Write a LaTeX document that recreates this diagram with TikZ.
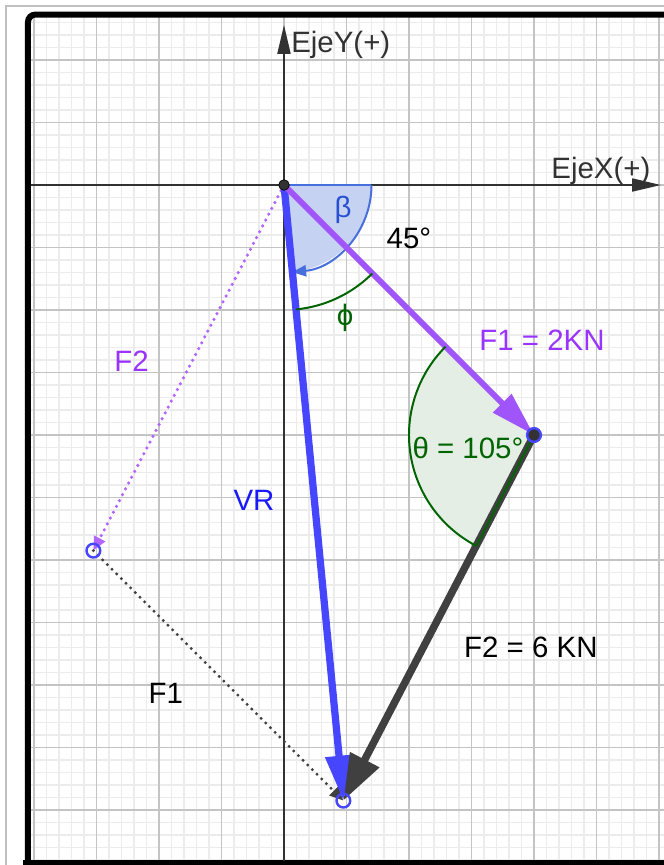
\documentclass[tikz,border=0pt]{standalone}
\usepackage{fontspec}
\setmainfont{Liberation Sans}
\usetikzlibrary{arrows.meta}
\definecolor{minorc}{RGB}{236,236,236}
\definecolor{majorc}{RGB}{196,196,196}
\definecolor{outerc}{RGB}{192,192,192}
\definecolor{axisc}{RGB}{50,50,50}
\definecolor{purpv}{RGB}{160,85,250}
\definecolor{purpt}{RGB}{153,51,255}
\definecolor{bluev}{RGB}{70,70,255}
\definecolor{bluet}{RGB}{25,25,255}
\definecolor{darkv}{RGB}{64,64,64}
\definecolor{betafill}{RGB}{198,210,242}
\definecolor{betaedge}{RGB}{70,110,220}
\definecolor{betat}{RGB}{40,80,210}
\definecolor{greenc}{RGB}{0,100,0}
\definecolor{thetafill}{RGB}{228,238,228}
\definecolor{ringc}{RGB}{70,70,255}
\tikzset{
  minorgrid/.style={draw=minorc, line width=0.55pt},
  majorgrid/.style={draw=majorc, line width=0.75pt},
  axisline/.style={draw=axisc, line width=0.6pt, -{Triangle[length=0.46cm,width=0.21cm]}},
  fone/.style={draw=purpv, line width=2.7pt, -{Triangle[length=0.72cm,width=0.4cm]}},
  vrvec/.style={draw=bluev, line width=3.3pt, -{Triangle[length=0.72cm,width=0.42cm]}},
  ftwo/.style={draw=darkv, line width=3.4pt, -{Triangle[length=0.74cm,width=0.5cm]}},
  dotpurple/.style={draw=purpt!75, line width=1.6pt, line cap=round, dash pattern=on 0pt off 3pt, -{Triangle[length=0.22cm,width=0.19cm]}},
  dotgray/.style={draw=darkv, line width=1.5pt, line cap=round, dash pattern=on 0pt off 3pt, -{Triangle[length=0.22cm,width=0.19cm]}},
  lbl/.style={inner sep=0pt, font=\fontsize{13.4pt}{15pt}\selectfont},
  ring/.style={circle, draw=ringc, line width=1.1pt, minimum size=0.22cm, inner sep=0pt},
  blackpt/.style={circle, fill=axisc, draw=black, line width=0.3pt, minimum size=0.17cm, inner sep=0pt},
}
\begin{document}
\begin{tikzpicture}[x=1cm,y=1cm]
\useasboundingbox (-4.544,-10.88) rectangle (6.08,2.96);
\fill[white] (-4.544,-10.88) rectangle (6.08,2.96);
% grid
\begin{scope}
  \clip (-4.048,-10.816) rectangle (6.08,2.688);
  \draw[minorgrid] (-5,-11) grid[step=0.2] (7,3);
  \draw[majorgrid] (-5,-11) grid[step=1] (7,3);
\end{scope}
% outer light frame and black frame
\draw[draw=outerc, line width=0.9pt] (-4.448,-10.95) -- (-4.448,2.864) -- (6.2,2.864);
\draw[line width=2.73pt, rounded corners=0.12cm] (-4.096,-10.95) -- (-4.096,2.728) -- (6.3,2.728);
\draw[line width=2.73pt] (-4.17,-10.85) -- (6.3,-10.85);
% axes
\coordinate (xs) at (-4.048,0);
\coordinate (xe) at (6.03,0);
\coordinate (ys) at (0,-10.816);
\coordinate (ye) at (0,2.56);
\draw[axisline] (xs) -- (xe);
\draw[axisline] (ys) -- (ye);
% points
\coordinate (O) at (0,0);
\coordinate (A) at (4,-4);
\coordinate (P) at (-3.05,-5.85);
\coordinate (R) at (0.95,-9.85);
% beta sector
\fill[betafill] (O) -- ++(0:1.4) arc[start angle=0, end angle=-84.5, radius=1.4] -- cycle;
\draw[betaedge, line width=0.9pt] (O) -- ++(0:1.4);
\draw[betaedge, line width=0.9pt, -{Triangle[length=0.22cm,width=0.18cm]}] (O) ++(0:1.4) arc[start angle=0, end angle=-84.5, radius=1.4];
% theta sector fill
\fill[thetafill] (A) -- ++(135:2) arc[start angle=135, end angle=242.5, radius=2] -- cycle;
% vectors
\draw[dotpurple] (O) -- (P);
\draw[dotgray] (P) -- (R);
\draw[vrvec] (O) -- (R);
\draw[ftwo] (A) -- (R);
\draw[fone] (O) -- (A);
% arcs
\draw[greenc, line width=0.9pt] (A) ++(135:2) arc[start angle=135, end angle=242.5, radius=2];
\draw[greenc, line width=0.8pt] (A) -- ++(242.5:2);
\draw[greenc, line width=0.9pt] (O) ++(-84.5:2) arc[start angle=-84.5, end angle=-45, radius=2];
% point markers
\node[blackpt] (Omark) at (O) {};
\node[ring, fill=axisc] (Amark) at (A) {};
\node[ring] (Pmark) at (P) {};
\node[ring] (Rmark) at (R) {};
% labels
\node[lbl, text=axisc, anchor=west] (ly) at (0.11,2.24) {EjeY(+)};
\node[lbl, text=axisc] (lx) at (5.07,0.224) {EjeX(+)};
\node[lbl, text=betat] (lbeta) at (0.944,-0.4) {β};
\node[lbl] (l45) at (2.0,-0.85) {45°};
\node[lbl, text=greenc] (lphi) at (0.976,-2.13) {ϕ};
\node[lbl, text=purpt] (lf1) at (4.128,-2.48) {F1 = 2KN};
\node[lbl, text=greenc] (lth) at (2.944,-4.21) {θ = 105°};
\node[lbl] (lf2) at (3.95,-7.39) {F2 = 6 KN};
\node[lbl, text=purpt] (lf2b) at (-2.44,-2.82) {F2};
\node[lbl, text=bluet] (lvr) at (-0.48,-5.04) {VR};
\node[lbl] (lf1b) at (-1.89,-8.13) {F1};
\end{tikzpicture}
\end{document}
